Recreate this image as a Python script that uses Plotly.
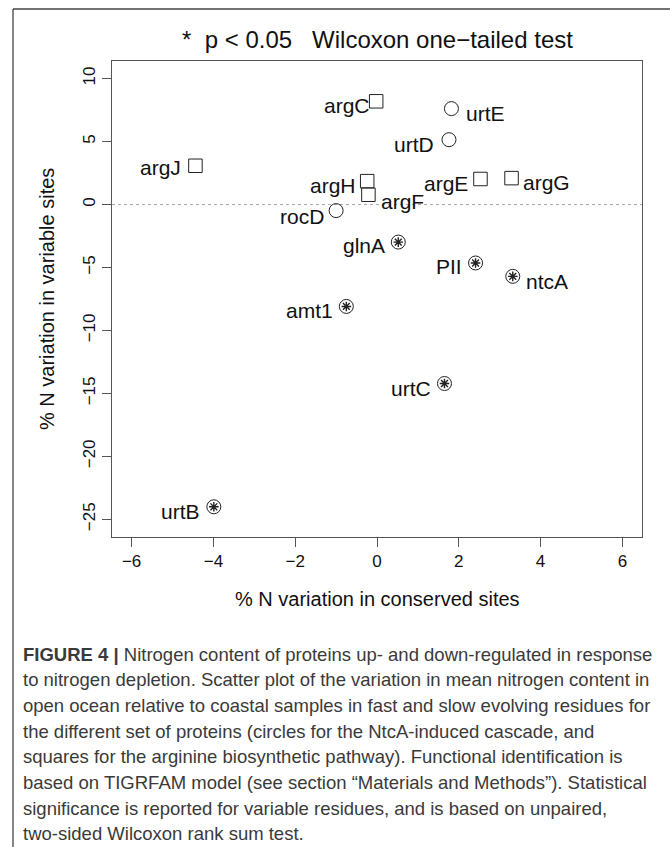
import plotly.graph_objects as go

# ---------------- data ----------------
square_names = ["argC", "argJ", "argH", "argF", "argE", "argG"]
square_x = [-0.02, -4.44, -0.24, -0.21, 2.53, 3.29]
square_y = [8.20, 3.08, 1.86, 0.78, 2.03, 2.10]

circle_names = ["urtE", "urtD", "rocD"]
circle_x = [1.82, 1.76, -1.00]
circle_y = [7.62, 5.15, -0.48]

sig_names = ["glnA", "amt1", "PII", "ntcA", "urtC", "urtB"]
sig_x = [0.52, -0.75, 2.41, 3.32, 1.65, -3.99]
sig_y = [-2.98, -8.09, -4.64, -5.70, -14.21, -24.00]

x_ticks = [-6, -4, -2, 0, 2, 4, 6]
y_ticks = [10, 5, 0, -5, -10, -15, -20, -25]

title_text = "*  p < 0.05   Wilcoxon one\u2212tailed test"
x_title = "% N variation in conserved sites"
y_title = "% N variation in variable sites"

caption_lines = [
    "<b>FIGURE 4 |</b> Nitrogen content of proteins up- and down-regulated in response",
    "to nitrogen depletion. Scatter plot of the variation in mean nitrogen content in",
    "open ocean relative to coastal samples in fast and slow evolving residues for",
    "the different set of proteins (circles for the NtcA-induced cascade, and",
    "squares for the arginine biosynthetic pathway). Functional identification is",
    "based on TIGRFAM model (see section \u201cMaterials and Methods\u201d). Statistical",
    "significance is reported for variable residues, and is based on unpaired,",
    "two-sided Wilcoxon rank sum test.",
]

# ---------------- layout / style ----------------
W, H = 670, 847
ML, MR, MT, MB = 112, 28, 61, 310
PW, PH = W - ML - MR, H - MT - MB
FONT = "Liberation Sans, Arial, Helvetica, sans-serif"
AXC = "#555555"
MARKC = "#222222"

def px2paper(px, py):
    return (px - ML) / PW, 1 - (py - MT) / PH

# label placement: side ('L' = text left of mark, 'R' = right), pixel shifts
label_style = {
    "argC": ("L", -4, 4), "argJ": ("L", -12, 2), "argH": ("L", -9, 4),
    "argF": ("R", 11, 7), "argE": ("L", -10, 5), "argG": ("R", 9, 4),
    "urtE": ("R", 13, 5), "urtD": ("L", -13, 5), "rocD": ("L", -10, 6),
    "glnA": ("L", -11, 3), "amt1": ("L", -11, 4), "PII": ("L", -12, 4),
    "ntcA": ("R", 11, 5), "urtC": ("L", -11, 5), "urtB": ("L", -12, 5),
}

fig = go.Figure()
fig.add_trace(go.Scatter(
    x=square_x, y=square_y, mode="markers",
    marker=dict(symbol="square-open", size=13.5, color=MARKC, line=dict(width=1, color=MARKC)),
    hoverinfo="skip", showlegend=False))
fig.add_trace(go.Scatter(
    x=circle_x, y=circle_y, mode="markers",
    marker=dict(symbol="circle-open", size=14, color=MARKC, line=dict(width=1, color=MARKC)),
    hoverinfo="skip", showlegend=False))
fig.add_trace(go.Scatter(
    x=sig_x, y=sig_y, mode="markers",
    marker=dict(symbol="circle-open", size=14, color=MARKC, line=dict(width=1, color=MARKC)),
    hoverinfo="skip", showlegend=False))
fig.add_trace(go.Scatter(
    x=sig_x, y=sig_y, mode="markers",
    marker=dict(symbol="asterisk-open", size=8, color=MARKC, line=dict(width=1.4, color=MARKC)),
    hoverinfo="skip", showlegend=False))

annotations = []
for names, xs, ys in [(square_names, square_x, square_y),
                      (circle_names, circle_x, circle_y),
                      (sig_names, sig_x, sig_y)]:
    for n, xv, yv in zip(names, xs, ys):
        side, dx, dy = label_style[n]
        annotations.append(dict(
            x=xv, y=yv, xref="x", yref="y", text=n, showarrow=False,
            xanchor="right" if side == "L" else "left", yanchor="middle",
            xshift=dx, yshift=-dy,
            font=dict(family=FONT, size=21, color="#111111")))

# caption
cap_y0, cap_dy = 654, 25.7
for i, line in enumerate(caption_lines):
    xp, yp = px2paper(21, cap_y0 + i * cap_dy)
    annotations.append(dict(
        x=xp, y=yp, xref="paper", yref="paper", text=line, showarrow=False,
        xanchor="left", yanchor="middle",
        font=dict(family=FONT, size=18.5, color="#3a3a3a")))

# axis titles
xp, yp = px2paper(377, 599)
annotations.append(dict(x=0.5, y=yp, xref="paper", yref="paper", text=x_title,
                        showarrow=False, xanchor="center", yanchor="middle",
                        font=dict(family=FONT, size=20, color="#111111")))
xp, yp = px2paper(47, 299)
annotations.append(dict(x=xp, y=0.5, xref="paper", yref="paper", text=y_title,
                        showarrow=False, xanchor="center", yanchor="middle", textangle=-90,
                        font=dict(family=FONT, size=20, color="#111111")))
# main title
xp, yp = px2paper(377, 40)
annotations.append(dict(x=0.5, y=yp, xref="paper", yref="paper", text=title_text,
                        showarrow=False, xanchor="center", yanchor="middle",
                        font=dict(family=FONT, size=24, color="#111111")))

shapes = []
# zero reference line
shapes.append(dict(type="line", xref="paper", yref="y", x0=0, x1=1, y0=0, y1=0,
                   line=dict(color="#a8a8a8", width=1, dash="dot"), layer="below"))
# outer figure frame (left and top edges visible)
fx0, fy0 = px2paper(13, 9)
fx1, fy1 = px2paper(700, 900)
shapes.append(dict(type="line", xref="paper", yref="paper", x0=fx0, x1=fx0, y0=fy0, y1=fy1,
                   line=dict(color="#444444", width=1.3)))
shapes.append(dict(type="line", xref="paper", yref="paper", x0=fx0, x1=fx1, y0=fy0, y1=fy0,
                   line=dict(color="#444444", width=1.3)))

fig.update_layout(
    width=W, height=H, margin=dict(l=ML, r=MR, t=MT, b=MB),
    paper_bgcolor="white", plot_bgcolor="white",
    annotations=annotations, shapes=shapes, showlegend=False,
    font=dict(family=FONT, color="#111111"),
)
fig.update_xaxes(range=[-6.48, 6.48], tickvals=x_ticks,
                 ticktext=[str(v).replace("-", "\u2212") for v in x_ticks],
                 showgrid=False, zeroline=False, showline=True, mirror=True,
                 linecolor=AXC, linewidth=1, ticks="outside", ticklen=9, tickcolor=AXC,
                 tickfont=dict(family=FONT, size=17, color="#111111"))
fig.update_yaxes(range=[-26.4, 11.4], tickvals=y_ticks,
                 ticktext=[str(v).replace("-", "\u2212") for v in y_ticks],
                 showgrid=False, zeroline=False, showline=True, mirror=True,
                 linecolor=AXC, linewidth=1, ticks="outside", ticklen=9, tickcolor=AXC,
                 tickangle=-90,
                 tickfont=dict(family=FONT, size=17, color="#111111"))

fig.write_html("out.html",
               config={"displayModeBar": False, "staticPlot": True},
               post_script="document.body.style.margin='0';document.body.style.overflow='hidden';")
